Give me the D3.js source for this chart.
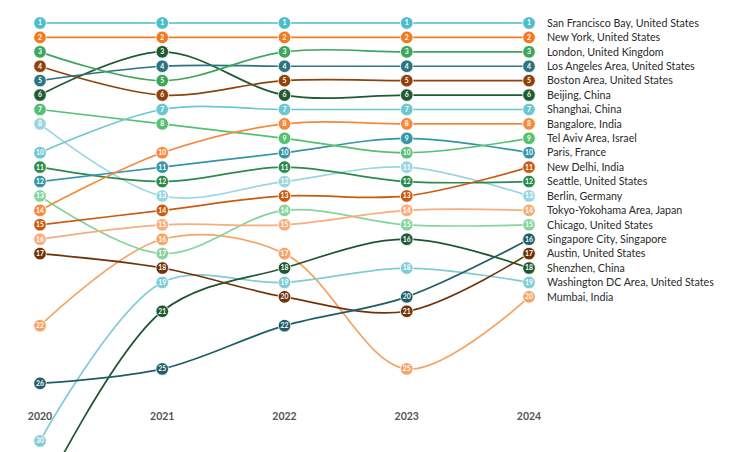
<!DOCTYPE html>
<html>
<head>
<meta charset="utf-8">
<script src="https://cdn.jsdelivr.net/npm/d3@7"></script>
<style>
  body { margin: 0; background: #fff; }
  svg { display: block; font-family: Lato, "Open Sans", sans-serif; }
</style>
</head>
<body>
<svg id="chart" width="744" height="452"></svg>
<script>
// years on the x axis
const years = [2020, 2021, 2022, 2023, 2024];

// city names, in 2024 order
const cities = [
  'San Francisco Bay, United States',
  'New York, United States',
  'London, United Kingdom',
  'Los Angeles Area, United States',
  'Boston Area, United States',
  'Beijing, China',
  'Shanghai, China',
  'Bangalore, India',
  'Tel Aviv Area, Israel',
  'Paris, France',
  'New Delhi, India',
  'Seattle, United States',
  'Berlin, Germany',
  'Tokyo-Yokohama Area, Japan',
  'Chicago, United States',
  'Singapore City, Singapore',
  'Austin, United States',
  'Shenzhen, China',
  'Washington DC Area, United States',
  'Mumbai, India'
];

// rank per year (2020..2024), same order as cities
const ranks = [
  [1, 1, 1, 1, 1],
  [2, 2, 2, 2, 2],
  [3, 5, 3, 3, 3],
  [5, 4, 4, 4, 4],
  [4, 6, 5, 5, 5],
  [6, 3, 6, 6, 6],
  [10, 7, 7, 7, 7],
  [14, 10, 8, 8, 8],
  [7, 8, 9, 10, 9],
  [12, 11, 10, 9, 10],
  [15, 14, 13, 13, 11],
  [11, 12, 11, 12, 12],
  [8, 13, 12, 11, 13],
  [16, 15, 15, 14, 14],
  [13, 17, 14, 15, 15],
  [26, 25, 22, 20, 16],
  [17, 18, 20, 21, 17],
  [34, 21, 18, 16, 18],
  [30, 19, 19, 18, 19],
  [22, 16, 17, 25, 20]
];

const colors = [
  '#4dbccb', '#f47a1f', '#3da55c', '#2b7480', '#8f430b',
  '#1f5a30', '#6cc7d2', '#f38a3d', '#55c071', '#3496a6',
  '#c85b10', '#2b8a4c', '#9ad6e0', '#f8ad7c', '#87d49e',
  '#1f5d68', '#6f3309', '#1d5630', '#7fcbd6', '#f5a466'
];

const svg = d3.select('#chart');
const height = 452;

const x = d3.scalePoint().domain(years).range([40, 529]);
const y = d3.scaleLinear().domain([1, 30]).range([23, 441]);

const line = d3.line()
  .x(d => x(d.year))
  .y(d => y(d.rank))
  .curve(d3.curveCatmullRom.alpha(0.5));

const series = cities.map((name, i) => ({
  name,
  color: colors[i],
  values: years.map((yr, j) => ({ year: yr, rank: ranks[i][j] }))
}));

// draw lower ranks first so top ones sit above
const g = svg.append('g');
g.selectAll('path')
  .data(series.slice().reverse())
  .enter()
  .append('path')
  .attr('d', d => line(d.values))
  .attr('fill', 'none')
  .attr('stroke', d => d.color)
  .attr('stroke-width', 1.7);

// nodes
const nodes = g.selectAll('g.node-set')
  .data(series.slice().reverse())
  .enter()
  .append('g');

const visible = d => d.values.filter(v => y(v.rank) < height).map(v => ({ ...v, color: d.color }));

nodes.selectAll('circle')
  .data(visible)
  .enter()
  .append('circle')
  .attr('cx', d => x(d.year))
  .attr('cy', d => y(d.rank))
  .attr('r', 6.3)
  .attr('fill', d => d.color)
  .attr('stroke', '#fff')
  .attr('stroke-width', 0.8);

nodes.selectAll('text')
  .data(visible)
  .enter()
  .append('text')
  .attr('x', d => x(d.year))
  .attr('y', d => y(d.rank))
  .attr('dy', '0.35em')
  .attr('text-anchor', 'middle')
  .attr('font-size', 6.8)
  .attr('font-weight', 'bold')
  .attr('fill', '#fff')
  .text(d => d.rank);

// city labels on the right
svg.append('g')
  .selectAll('text')
  .data(series)
  .enter()
  .append('text')
  .attr('x', 547)
  .attr('y', d => y(d.values[4].rank))
  .attr('dy', '0.35em')
  .attr('font-size', 10.7)
  .attr('fill', '#2a2a2a')
  .text(d => d.name);

// year labels
svg.append('g')
  .selectAll('text')
  .data(years)
  .enter()
  .append('text')
  .attr('x', d => x(d))
  .attr('y', 416)
  .attr('dy', '0.35em')
  .attr('text-anchor', 'middle')
  .attr('font-size', 10.5)
  .attr('font-weight', 'bold')
  .attr('fill', '#555')
  .text(d => d);
</script>
</body>
</html>
